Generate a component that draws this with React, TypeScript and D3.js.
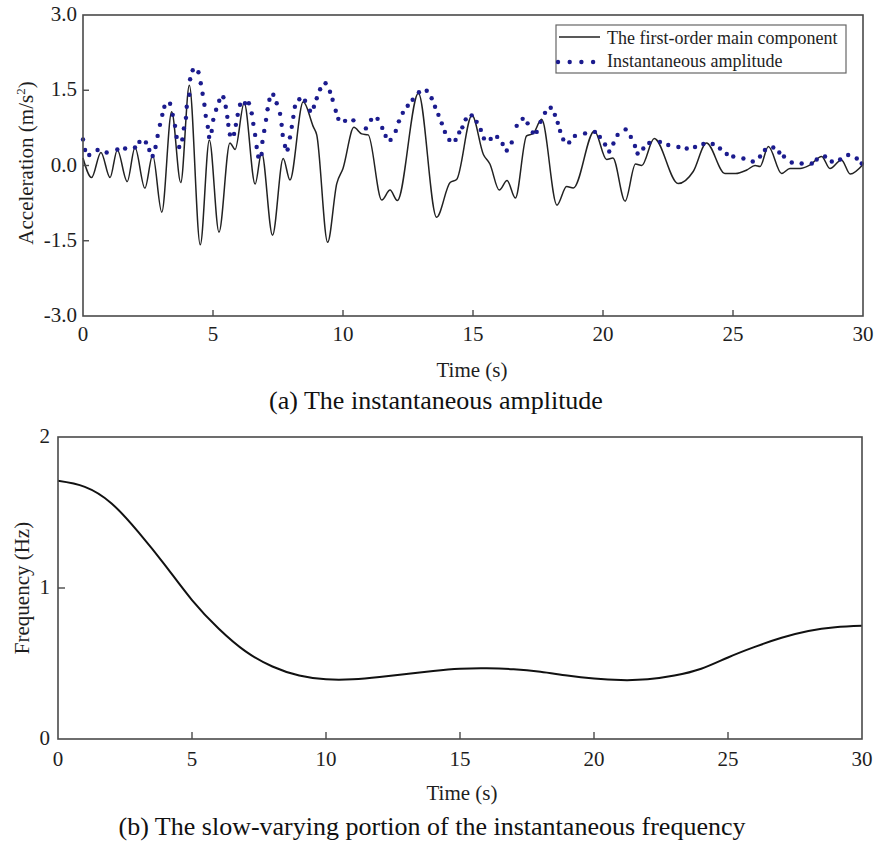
import React from "react";
import * as d3 from "d3";

// (a) first-order main component, read at its turning points
const componentTime = [0, 0.33, 0.69, 1.04, 1.32, 1.7, 2.0, 2.38, 2.68, 3.03, 3.41, 3.76, 4.09, 4.51, 4.86, 5.23, 5.65, 5.85, 6.2, 6.62, 6.87, 7.29, 7.7, 7.96, 8.47, 8.86, 8.99, 9.41, 9.76, 10.0, 10.42, 10.72, 10.97, 11.49, 11.81, 12.09, 12.9, 13.6, 14.12, 14.37, 14.96, 15.4, 15.65, 16.01, 16.31, 16.63, 17.06, 17.32, 17.64, 18.23, 18.6, 18.86, 19.67, 20.14, 20.38, 20.85, 21.25, 21.49, 21.97, 22.89, 23.47, 23.98, 24.69, 25.1, 25.53, 25.85, 26.04, 26.36, 26.87, 27.19, 27.58, 27.96, 28.41, 28.73, 29.17, 29.51, 30];
const componentValue = [0.15, -0.24, 0.26, -0.24, 0.31, -0.32, 0.36, -0.45, 0.21, -0.93, 1.07, -0.34, 1.6, -1.58, 0.51, -1.33, 0.45, 0.32, 1.25, -0.37, 0.26, -1.39, 0.14, -0.29, 1.27, 0.77, 0.61, -1.53, -0.36, -0.06, 0.76, 0.63, 0.61, -0.69, -0.49, -0.7, 1.44, -1.03, -0.34, -0.28, 1.0, 0.22, 0.03, -0.49, -0.3, -0.65, 0.59, 0.64, 0.92, -0.79, -0.42, -0.45, 0.69, 0.12, 0.15, -0.71, 0.03, 0.0, 0.54, -0.36, -0.12, 0.45, -0.16, -0.16, -0.09, 0.0, -0.02, 0.38, -0.16, -0.06, -0.06, 0.01, 0.18, -0.06, 0.11, -0.17, 0.02];

// (a) instantaneous amplitude, one entry per plotted dot
const amplitudeTime = [0.0, 0.08, 0.24, 0.56, 0.91, 1.32, 1.62, 2.0, 2.17, 2.42, 2.55, 2.68, 2.79, 2.87, 2.96, 3.05, 3.13, 3.35, 3.45, 3.54, 3.6, 3.7, 3.82, 3.88, 3.96, 3.99, 4.09, 4.12, 4.22, 4.44, 4.53, 4.6, 4.67, 4.72, 4.8, 4.85, 4.95, 5.01, 5.12, 5.24, 5.4, 5.49, 5.55, 5.59, 5.65, 5.81, 5.88, 5.95, 6.04, 6.23, 6.38, 6.49, 6.55, 6.62, 6.68, 6.74, 6.87, 6.9, 6.97, 7.04, 7.1, 7.17, 7.32, 7.45, 7.58, 7.64, 7.68, 7.77, 7.87, 7.96, 8.03, 8.09, 8.15, 8.32, 8.54, 8.73, 8.88, 8.99, 9.12, 9.33, 9.5, 9.6, 9.72, 9.82, 10.08, 10.4, 10.88, 11.08, 11.33, 11.51, 11.64, 11.83, 12.03, 12.15, 12.3, 12.49, 12.68, 12.92, 13.22, 13.41, 13.54, 13.67, 13.8, 13.92, 14.09, 14.33, 14.47, 14.59, 14.72, 14.95, 15.14, 15.3, 15.42, 15.68, 15.93, 16.14, 16.3, 16.49, 16.68, 16.91, 17.1, 17.3, 17.45, 17.6, 17.77, 17.99, 18.15, 18.26, 18.35, 18.47, 18.7, 18.92, 19.31, 19.69, 19.88, 20.08, 20.24, 20.4, 20.56, 20.87, 21.07, 21.23, 21.33, 21.55, 21.78, 22.19, 22.51, 22.9, 23.22, 23.54, 23.86, 24.22, 24.5, 24.76, 25.01, 25.4, 25.76, 26.04, 26.23, 26.55, 26.78, 26.96, 27.26, 27.64, 28.03, 28.22, 28.54, 28.8, 29.12, 29.43, 29.76, 29.95];
const amplitudeValue = [0.52, 0.31, 0.21, 0.31, 0.26, 0.32, 0.34, 0.36, 0.47, 0.46, 0.31, 0.19, 0.37, 0.59, 0.81, 1.01, 1.17, 1.23, 1.01, 0.79, 0.57, 0.37, 0.52, 0.74, 0.95, 1.17, 1.41, 1.72, 1.9, 1.86, 1.64, 1.43, 1.21, 0.99, 0.77, 0.57, 0.69, 0.91, 1.11, 1.29, 1.36, 1.17, 0.97, 0.81, 0.62, 0.63, 0.81, 1.01, 1.21, 1.24, 1.24, 1.04, 0.83, 0.61, 0.37, 0.18, 0.23, 0.47, 0.69, 0.91, 1.12, 1.31, 1.41, 1.24, 1.03, 0.81, 0.61, 0.39, 0.32, 0.56, 0.77, 0.97, 1.17, 1.32, 1.29, 1.09, 1.17, 1.34, 1.52, 1.64, 1.47, 1.31, 1.09, 0.93, 0.89, 0.9, 0.74, 0.91, 0.93, 0.75, 0.59, 0.51, 0.69, 0.88, 1.05, 1.19, 1.31, 1.46, 1.49, 1.34, 1.17, 1.01, 0.84, 0.67, 0.51, 0.51, 0.66, 0.76, 0.92, 1.0, 0.87, 0.71, 0.54, 0.53, 0.57, 0.43, 0.3, 0.46, 0.79, 0.93, 0.84, 0.66, 0.67, 0.87, 1.05, 1.15, 1.01, 0.85, 0.69, 0.52, 0.46, 0.59, 0.64, 0.67, 0.57, 0.42, 0.28, 0.44, 0.61, 0.72, 0.57, 0.39, 0.24, 0.34, 0.45, 0.47, 0.41, 0.37, 0.34, 0.37, 0.43, 0.43, 0.34, 0.23, 0.18, 0.14, 0.08, 0.18, 0.31, 0.36, 0.26, 0.18, 0.06, 0.04, 0.04, 0.12, 0.18, 0.08, 0.12, 0.21, 0.14, 0.04];

// (b) slow-varying part of the instantaneous frequency
const frequencyTime = [0, 1, 2, 3, 4, 5, 6, 7, 8, 9, 10, 11, 12, 13, 14, 15, 16, 17, 18, 19, 20, 21, 22, 23, 24, 25, 26, 27, 28, 29, 30];
const frequencyValue = [1.71, 1.67, 1.56, 1.37, 1.15, 0.92, 0.73, 0.58, 0.48, 0.42, 0.395, 0.395, 0.41, 0.43, 0.45, 0.465, 0.468, 0.462, 0.445, 0.42, 0.4, 0.39, 0.395, 0.42, 0.465, 0.54, 0.61, 0.67, 0.715, 0.74, 0.75];

const timeTicks = [0, 5, 10, 15, 20, 25, 30];
const accelTicks = [-3, -1.5, 0, 1.5, 3];
const freqTicks = [0, 1, 2];

const FONT = "Liberation Serif, Times New Roman, DejaVu Serif, serif";
const AXIS = "#4a4a4a";
const TEXT = "#1e1e1e";
const BLUE = "#1b1b8e";

const W = 874;
const H = 845;

const App = () => {
  // panel (a)
  const xa = d3.scaleLinear().domain([0, 30]).range([83, 863]);
  const ya = d3.scaleLinear().domain([-3, 3]).range([316, 15]);
  // panel (b)
  const xb = d3.scaleLinear().domain([0, 30]).range([58, 862]);
  const yb = d3.scaleLinear().domain([0, 2]).range([739, 437]);

  const compLine = d3
    .line<number>()
    .x((t) => xa(t))
    .y((_, i) => ya(componentValue[i]))
    .curve(d3.curveMonotoneX);

  const freqLine = d3
    .line<number>()
    .x((t) => xb(t))
    .y((_, i) => yb(frequencyValue[i]))
    .curve(d3.curveNatural);

  const frame = (x: d3.ScaleLinear<number, number>, y: d3.ScaleLinear<number, number>) => {
    const [x0, x1] = x.range();
    const [y0, y1] = y.range();
    return (
      <rect
        x={x0}
        y={y1}
        width={x1 - x0}
        height={y0 - y1}
        fill="none"
        stroke={AXIS}
        strokeWidth={1.6}
      />
    );
  };

  const legendX = 556;
  const legendY = 25;

  return (
    <svg
      width={W}
      height={H}
      viewBox={`0 0 ${W} ${H}`}
      style={{ position: "absolute", left: 0, top: 0, background: "#fff", fontFamily: FONT }}
    >
      {/* ---------- panel (a) ---------- */}
      <g>
        <path d={compLine(componentTime) || ""} fill="none" stroke="#222" strokeWidth={1.5} />
        {amplitudeTime.map((t, i) => (
          <circle key={i} cx={xa(t)} cy={ya(amplitudeValue[i])} r={2.2} fill={BLUE} />
        ))}
        {frame(xa, ya)}

        {timeTicks.slice(1, -1).map((t) => (
          <line key={t} x1={xa(t)} x2={xa(t)} y1={316} y2={310} stroke={AXIS} strokeWidth={1.4} />
        ))}
        {accelTicks.slice(1, -1).map((v) => (
          <line key={v} x1={83} x2={89} y1={ya(v)} y2={ya(v)} stroke={AXIS} strokeWidth={1.4} />
        ))}
        {timeTicks.map((t) => (
          <text key={t} x={xa(t)} y={341} textAnchor="middle" fontSize={21} fill={TEXT}>
            {t}
          </text>
        ))}
        {accelTicks.map((v) => (
          <text key={v} x={77} y={ya(v) + 6} textAnchor="end" fontSize={21} fill={TEXT}>
            {v.toFixed(1)}
          </text>
        ))}
        <text x={472} y={377} textAnchor="middle" fontSize={21} fill={TEXT}>
          Time (s)
        </text>
        <text
          transform="translate(33,163) rotate(-90)"
          textAnchor="middle"
          fontSize={21}
          fill={TEXT}
        >
          Acceleration (m/s
          <tspan fontSize={13} dy={-8}>
            2
          </tspan>
          <tspan dy={8}>)</tspan>
        </text>

        {/* legend */}
        <rect x={legendX} y={legendY} width={290} height={48} fill="#fff" stroke="#666" strokeWidth={1.2} />
        <line x1={legendX + 3} x2={legendX + 44} y1={legendY + 12} y2={legendY + 12} stroke="#222" strokeWidth={1.5} />
        {[0, 1, 2, 3].map((k) => (
          <circle key={k} cx={legendX + 2 + k * 11.7} cy={legendY + 37} r={2.2} fill={BLUE} />
        ))}
        <text x={legendX + 51} y={legendY + 19} fontSize={18} fill={TEXT}>
          The first-order main component
        </text>
        <text x={legendX + 51} y={legendY + 42} fontSize={18} fill={TEXT}>
          Instantaneous amplitude
        </text>

        <text x={436} y={409} textAnchor="middle" fontSize={26} fill="#111">
          (a) The instantaneous amplitude
        </text>
      </g>

      {/* ---------- panel (b) ---------- */}
      <g>
        <path d={freqLine(frequencyTime) || ""} fill="none" stroke="#111" strokeWidth={2} />
        {frame(xb, yb)}
        {timeTicks.slice(1, -1).map((t) => (
          <line key={t} x1={xb(t)} x2={xb(t)} y1={739} y2={732} stroke={AXIS} strokeWidth={1.4} />
        ))}
        {freqTicks.slice(1, -1).map((v) => (
          <line key={v} x1={58} x2={65} y1={yb(v)} y2={yb(v)} stroke={AXIS} strokeWidth={1.4} />
        ))}
        {timeTicks.map((t) => (
          <text key={t} x={xb(t)} y={766} textAnchor="middle" fontSize={21} fill={TEXT}>
            {t}
          </text>
        ))}
        {freqTicks.map((v) => (
          <text key={v} x={50} y={yb(v) + 6} textAnchor="end" fontSize={21} fill={TEXT}>
            {v}
          </text>
        ))}
        <text x={462} y={800} textAnchor="middle" fontSize={21} fill={TEXT}>
          Time (s)
        </text>
        <text
          transform="translate(29,588) rotate(-90)"
          textAnchor="middle"
          fontSize={21}
          fill={TEXT}
        >
          Frequency (Hz)
        </text>
        <text x={432} y={835} textAnchor="middle" fontSize={26} fill="#111">
          (b) The slow-varying portion of the instantaneous frequency
        </text>
      </g>
    </svg>
  );
};

export default App;
